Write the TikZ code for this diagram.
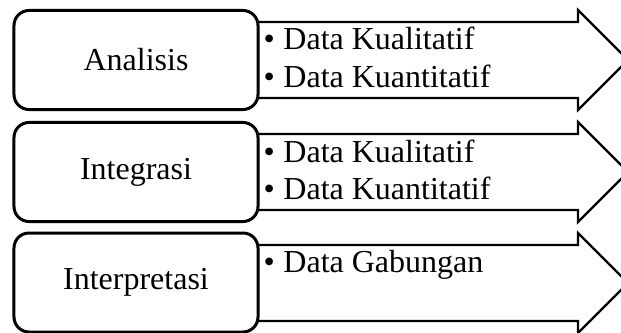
\documentclass[tikz,border=0pt]{standalone}
\usepackage{fontspec}
\setmainfont{Liberation Serif}
\tikzset{stage box/.style={draw, line width=1.2pt, rounded corners=6pt, fill=white,
    minimum width=97.6pt, minimum height=39.6pt, inner sep=0pt},
  data arrow/.style={draw, line width=0.9pt, fill=white},
  data item/.style={anchor=base west, inner sep=0pt}}
\def\itm{\makebox[8pt][l]{\textbullet}}

\begin{document}
\begin{tikzpicture}[x=0.4pt, y=-0.4pt]
      \fontsize{12.8}{15}\selectfont
      \clip (0,0) rectangle (621,333);

      %panah
      \draw[data arrow] (250,22) -- (578,22) -- (578,10) -- (628,60) -- (578,110) -- (578,98) -- (250,98) -- cycle;
      \draw[data arrow] (250,134) -- (578,134) -- (578,122) -- (628,172) -- (578,222) -- (578,210) -- (250,210) -- cycle;
      \draw[data arrow] (250,245) -- (578,245) -- (578,233) -- (628,283) -- (578,333) -- (578,321) -- (250,321) -- cycle;

      %tahap
      \node[stage box] (analisis) at (136, 60) {Analisis};
      \node[stage box] (integrasi) at (136, 172) {Integrasi};
      \node[stage box] (interpretasi) at (136, 282.5) {Interpretasi};

      %data
      \node[data item] (kual1) at (263, 50) {\itm Data Kualitatif};
      \node[data item] (kuan1) at (263, 87) {\itm Data Kuantitatif};
      \node[data item] (kual2) at (263, 162) {\itm Data Kualitatif};
      \node[data item] (kuan2) at (263, 199) {\itm Data Kuantitatif};
      \node[data item] (gab) at (263, 272) {\itm Data Gabungan};

    \end{tikzpicture}
\end{document}
